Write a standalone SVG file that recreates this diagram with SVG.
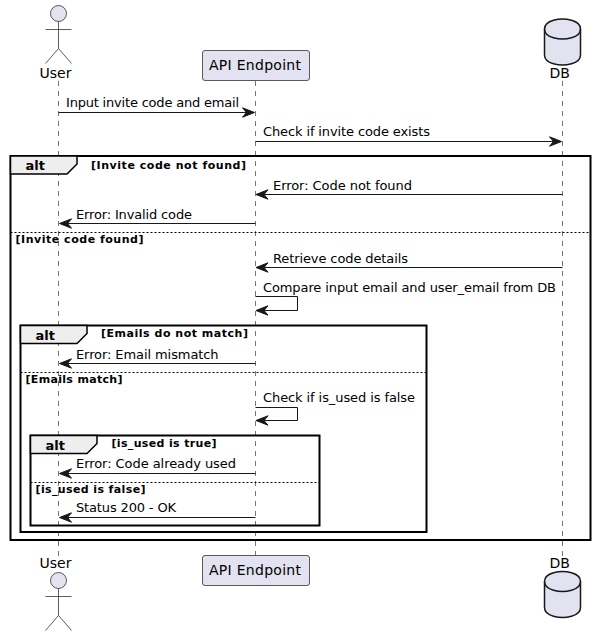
<svg xmlns="http://www.w3.org/2000/svg" width="596" height="636" viewBox="0 0 596 636">
<style>
text{font-family:"DejaVu Sans",sans-serif;fill:#000}
.n{font-size:13px}
.p{font-size:14px}
.t{font-size:13px;font-weight:bold}
.c{font-size:11px;font-weight:bold}
.life{stroke:#181818;stroke-width:.6;stroke-dasharray:5,5;fill:none}
.m{stroke:#181818;stroke-width:1;fill:none}
.act{fill:#E2E2F0;stroke:#181818;stroke-width:.7}
.db{fill:#E2E2F0;stroke:#181818;stroke-width:1.5}
.box{fill:#E2E2F0;stroke:#181818;stroke-width:.7}
.f{fill:none;stroke:#000;stroke-width:2}
.tab{fill:#EEE;stroke:#000;stroke-width:1.5}
.sep{stroke:#000;stroke-width:1;stroke-dasharray:2,2;fill:none}
</style>
<defs>
<path id="ar" d="M-12,-4.7 L0,0 L-12,4.7 L-8,0 Z" fill="#181818" stroke="#181818"/>
<path id="al" d="M12,-4.7 L0,0 L12,4.7 L8,0 Z" fill="#181818" stroke="#181818"/>
<g id="actor"><circle cx="0" cy="0" r="8" class="act"/><path d="M0,8 V35 M-13,16 H13 M-13,50 L0,35 L13,50" fill="none" stroke="#181818" stroke-width=".7"/></g>
<g id="cyl"><path class="db" d="M-18,-13 C-18,-23 0,-23 0,-23 C0,-23 18,-23 18,-13 V13 C18,23 0,23 0,23 C0,23 -18,23 -18,13 Z"/><path d="M-18,-13 C-18,-3 0,-3 0,-3 C0,-3 18,-3 18,-13" fill="none" stroke="#181818" stroke-width="1.5"/></g>
</defs>
<g id="lifelines">
<line class="life" x1="58.5" y1="81" x2="58.5" y2="557"/>
<line class="life" x1="255.5" y1="81" x2="255.5" y2="555"/>
<line class="life" x1="562.5" y1="81" x2="562.5" y2="557"/>
</g>
<g id="frames">
<g id="frame-outer"><rect class="f" x="10.5" y="156" width="580" height="384"/><path class="tab" d="M10.5,156 H77 V164 L67,174 H10.5 Z"/><text class="t" x="25.5" y="170">alt</text><text class="c" x="91" y="168.5" textLength="155">[Invite code not found]</text><line class="sep" x1="10.5" y1="232.5" x2="590.5" y2="232.5"/><text class="c" x="15.5" y="243" textLength="128">[Invite code found]</text></g>
<g id="frame-email"><rect class="f" x="20.5" y="325.5" width="406" height="206.5"/><path class="tab" d="M20.5,325.5 H87 V333.5 L77,343.5 H20.5 Z"/><text class="t" x="35.5" y="339.5">alt</text><text class="c" x="101" y="337" textLength="147">[Emails do not match]</text><line class="sep" x1="20.5" y1="372.5" x2="426.5" y2="372.5"/><text class="c" x="25.5" y="383" textLength="97">[Emails match]</text></g>
<g id="frame-used"><rect class="f" x="30.5" y="435.5" width="289" height="90"/><path class="tab" d="M30.5,435.5 H97 V443.5 L87,453.5 H30.5 Z"/><text class="t" x="45.5" y="449.5">alt</text><text class="c" x="111.5" y="447" textLength="105">[is_used is true]</text><line class="sep" x1="30.5" y1="482.5" x2="319.5" y2="482.5"/><text class="c" x="35.5" y="493" textLength="110">[is_used is false]</text></g>
</g>
<g id="connectors">
<line class="m" x1="58.5" y1="112.5" x2="250" y2="112.5"/><use href="#ar" x="254.5" y="112.5"/>
<line class="m" x1="255.5" y1="141.5" x2="556" y2="141.5"/><use href="#ar" x="561.5" y="141.5"/>
<line class="m" x1="562.5" y1="194.5" x2="262" y2="194.5"/><use href="#al" x="256" y="194.5"/>
<line class="m" x1="255.5" y1="223.5" x2="65" y2="223.5"/><use href="#al" x="59.5" y="223.5"/>
<line class="m" x1="562.5" y1="267.5" x2="262" y2="267.5"/><use href="#al" x="256" y="267.5"/>
<path class="m" d="M255.5,296.5 H297.5 V310.5 H262"/><use href="#al" x="256" y="310.5"/>
<line class="m" x1="255.5" y1="363.5" x2="65" y2="363.5"/><use href="#al" x="59.5" y="363.5"/>
<path class="m" d="M255.5,407.5 H297.5 V420.5 H262"/><use href="#al" x="256" y="420.5"/>
<line class="m" x1="255.5" y1="473.5" x2="65" y2="473.5"/><use href="#al" x="59.5" y="473.5"/>
<line class="m" x1="255.5" y1="517.5" x2="65" y2="517.5"/><use href="#al" x="59.5" y="517.5"/>
</g>
<g id="labels">
<text class="n" x="66" y="107" textLength="173">Input invite code and email</text>
<text class="n" x="263" y="136" textLength="167">Check if invite code exists</text>
<text class="n" x="273" y="190" textLength="139">Error: Code not found</text>
<text class="n" x="76" y="219" textLength="116">Error: Invalid code</text>
<text class="n" x="273" y="263" textLength="135">Retrieve code details</text>
<text class="n" x="263" y="292" textLength="293">Compare input email and user_email from DB</text>
<text class="n" x="76" y="359" textLength="142.6">Error: Email mismatch</text>
<text class="n" x="263" y="402" textLength="152">Check if is_used is false</text>
<text class="n" x="76" y="468" textLength="160">Error: Code already used</text>
<text class="n" x="76" y="512" textLength="100">Status 200 - OK</text>
</g>
<g id="user-top"><use href="#actor" x="58.5" y="13.5"/><text class="p" x="39.5" y="78">User</text></g>
<g id="api-top"><rect class="box" x="202.5" y="50.5" width="107" height="30" rx="2.5"/><text class="p" x="209" y="70" textLength="92">API Endpoint</text></g>
<g id="db-top"><use href="#cyl" x="562.5" y="42"/><text class="p" x="549.5" y="78">DB</text></g>
<g id="user-bottom"><text class="p" x="39.5" y="568">User</text><use href="#actor" x="58.5" y="580.5"/></g>
<g id="api-bottom"><rect class="box" x="202.5" y="555.5" width="107" height="30" rx="2.5"/><text class="p" x="209" y="575" textLength="92">API Endpoint</text></g>
<g id="db-bottom"><text class="p" x="549.5" y="568">DB</text><use href="#cyl" x="562.5" y="594.5"/></g>
</svg>
